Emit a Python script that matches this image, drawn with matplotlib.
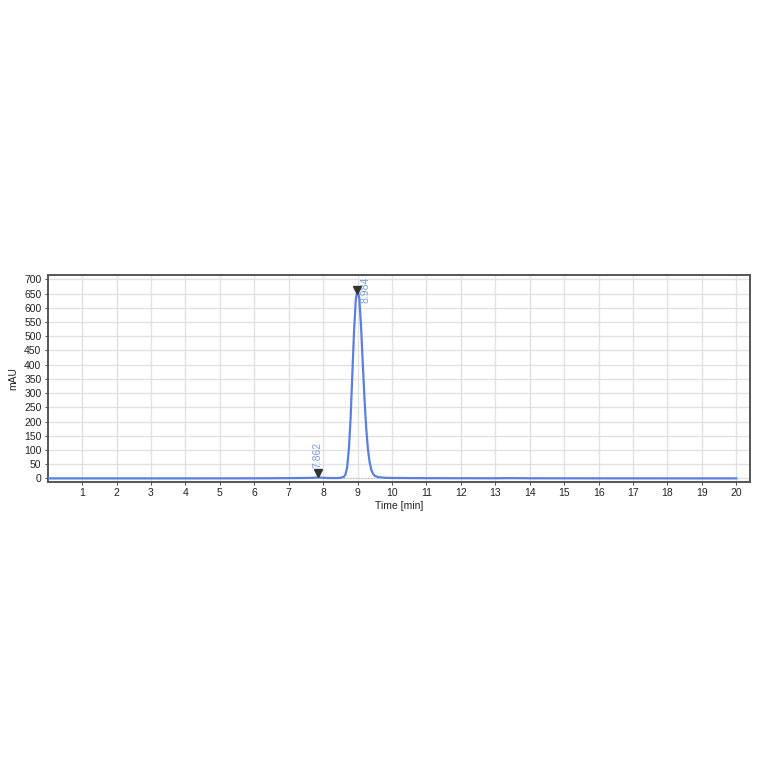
import matplotlib
matplotlib.use("Agg")
import matplotlib.pyplot as plt

plt.rcParams['font.family'] = ['Liberation Sans', 'DejaVu Sans']

time_min = [0.0, 2.0, 4.0, 6.0, 6.5, 7.0, 7.5, 7.7, 7.86, 8.0, 8.2, 8.4, 8.5, 8.6, 8.65, 8.7, 8.75, 8.8,
            8.85, 8.9, 8.95, 9.0, 9.05, 9.1, 9.15, 9.2, 9.25, 9.3, 9.35, 9.4, 9.45, 9.5, 9.6, 9.8, 10.0,
            11.0, 13.0, 13.4, 14.0, 16.0, 18.0, 20.0]
mau = [0.0, 0.0, 0.0, 0.3, 0.6, 1.0, 1.5, 2.0, 3.5, 2.0, 1.2, 1.2, 2.0, 5.0, 14.0, 40.0, 105.0, 215.0,
       370.0, 520.0, 630.0, 662.0, 635.0, 540.0, 410.0, 285.0, 180.0, 105.0, 58.0, 30.0, 16.0, 9.0, 4.5, 2.0, 1.5,
       0.8, 0.4, 1.0, 0.4, 0.2, 0.1, 0.0]

peak_times = [7.862, 8.984]
peak_heights = [3.5, 662.0]
peak_labels = ["7.862", "8.984"]

xticks = list(range(1, 21))
yticks = list(range(0, 701, 50))

fig = plt.figure(figsize=(7.64, 7.64), dpi=100)
ax = fig.add_axes([0.0624, 0.369, 0.9193, 0.271])

ax.plot(time_min, mau, color="#5b7fe0", lw=1.6, zorder=3)
ax.plot([8.6, 9.6], [0, 0], color="#bbbbbb", lw=0.8, ls=":", zorder=2)

marker_offsets = [15, 0]
for t, h, lab, off in zip(peak_times, peak_heights, peak_labels, marker_offsets):
    ax.plot([t], [h + off], marker="v", color="#333333", ms=6, zorder=4, clip_on=False)

ax.text(peak_times[0] - 0.04, 35, peak_labels[0], rotation=90, color="#7b9ae8",
        fontsize=7.5, ha="center", va="bottom")
ax.text(peak_times[1] + 0.26, 615, peak_labels[1], rotation=90, color="#7b9ae8",
        fontsize=7.5, ha="center", va="bottom", clip_on=False)

ax.set_xlim(0, 20.4)
ax.set_ylim(-13, 715)
ax.set_xticks(xticks)
ax.set_yticks(yticks)
ax.tick_params(axis="both", labelsize=7.5, length=2.5, width=0.8, color="#555555", labelcolor="#222222", pad=2)
ax.grid(True, color="#e2e2e2", lw=1.0, zorder=0)
ax.set_axisbelow(True)
for s in ax.spines.values():
    s.set_color("#555555")
    s.set_linewidth(1.4)

ax.set_xlabel("Time [min]", fontsize=7.5, labelpad=2, color="#222222")
ax.set_ylabel("mAU", fontsize=7.5, labelpad=4, color="#222222")

fig.savefig("out.png", dpi=100, facecolor="white")
